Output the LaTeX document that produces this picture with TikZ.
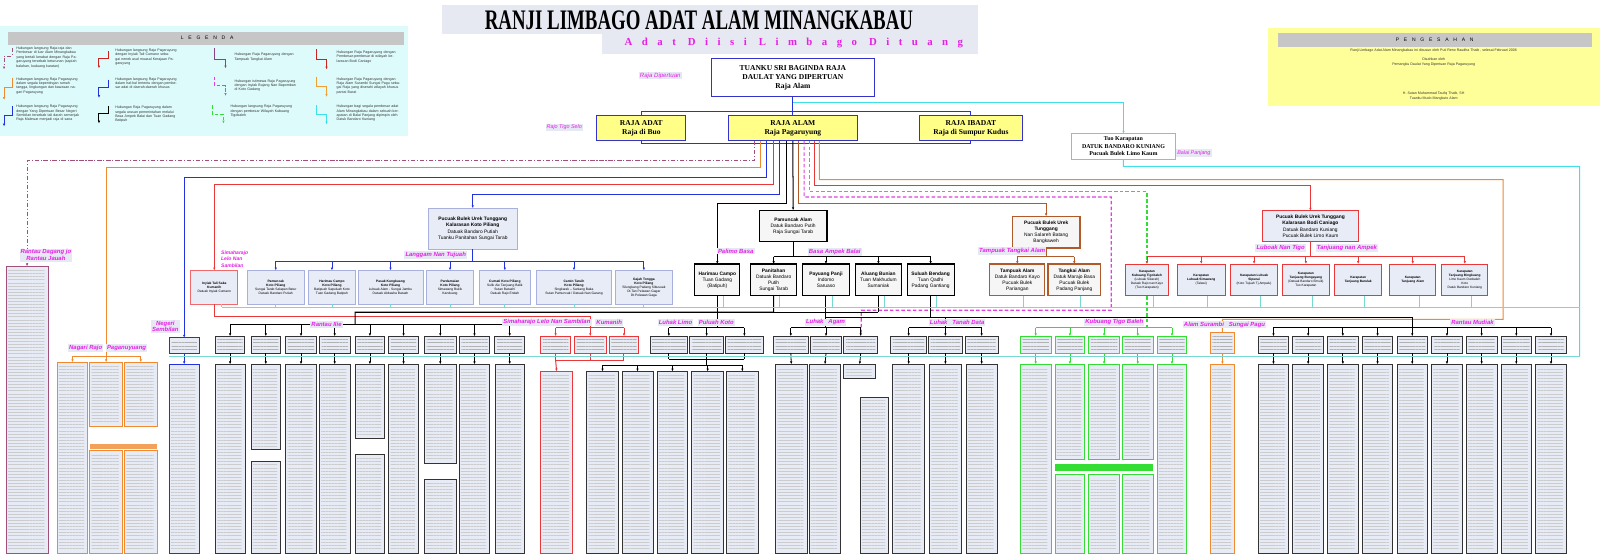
\documentclass[tikz,border=0pt]{standalone}
\usepackage{fontspec}
\setmainfont{Liberation Sans}
\newfontfamily\serif{Liberation Serif}
\newfontfamily\subfont[LetterSpace=88]{Liberation Serif}
\newfontfamily\spaced[LetterSpace=95]{Liberation Sans}
\usetikzlibrary{arrows.meta,calc,patterns.meta}
\definecolor{legbg}{HTML}{DDFBFB}
\definecolor{titlebg}{HTML}{E6E9F1}
\definecolor{yel}{HTML}{FFFF99}
\definecolor{rajaf}{HTML}{FFFF88}
\definecolor{navy}{HTML}{3333CC}
\definecolor{mag}{HTML}{E61EE6}
\definecolor{lblbg}{HTML}{E6E8F4}
\definecolor{boxfill}{HTML}{E8ECF6}
\definecolor{kpline}{HTML}{A8B0DD}
\definecolor{redln}{HTML}{E8383A}
\definecolor{orgln}{HTML}{F08A30}
\definecolor{bluln}{HTML}{2233DD}
\definecolor{mauve}{HTML}{A0507A}
\definecolor{brownln}{HTML}{B05A2A}
\definecolor{grnln}{HTML}{33DD33}
\definecolor{magln}{HTML}{E040E0}
\definecolor{cyanln}{HTML}{40E0E8}
\definecolor{tealln}{HTML}{78D8D2}
\definecolor{darkbx}{HTML}{333333}
\definecolor{tallfill}{HTML}{E6EBF5}
\definecolor{legpur}{HTML}{884488}
\definecolor{legred}{HTML}{CC2222}
\definecolor{legorg}{HTML}{F0A030}
\newcommand\bxn[7]{\node[#2,anchor=north west,minimum width={(#5-#3)*0.05cm},minimum height={(#6-#4)*0.05cm}] (#1) at (#3,#4) {#7};}
\newcommand\tall[6]{\bxn{#1}{tallbox,draw=#6}{#2}{#3}{#4}{#5}{}}
\newcommand\smb[6]{\bxn{#1}{smallbox,draw=#6}{#2}{#3}{#4}{#5}{}}
\begin{document}
\begin{tikzpicture}[x=0.05cm,y=-0.05cm,
  every node/.style={inner sep=0pt,outer sep=0pt},
  ln/.style={line width=1.4pt},
  thinln/.style={line width=1.1pt},
  arr/.style={-{Latex[length=4pt,width=3.4pt]}},
  dashdot/.style={dash pattern=on 6pt off 2.5pt on 1.5pt off 2.5pt},
  dsh/.style={dash pattern=on 5pt off 3pt,line width=1.6pt},
  lbl/.style={fill=lblbg,text=mag,font=\fontsize{8.3}{9.3}\selectfont\bfseries\itshape,inner sep=1.5pt,align=center},
  legtxt/.style={anchor=north west,text width=90pt,align=left,font=\fontsize{5}{6.1}\selectfont,text=black!80},
  pgtxt/.style={font=\fontsize{5}{6.1}\selectfont,text=black!80},
  topbox/.style={draw=navy,fill=white,line width=1.3pt,align=center,font={\serif\bfseries\fontsize{10.5}{12.5}\selectfont}},
  rajabox/.style={draw=navy,fill=rajaf,line width=1.3pt,align=center,font={\serif\bfseries\fontsize{10.5}{12.5}\selectfont}},
  tuobox/.style={draw=cyanln,fill=white,line width=1.3pt,align=center,font={\serif\bfseries\fontsize{8.3}{10.3}\selectfont}},
  kpmain/.style={draw=kpline,fill=boxfill,line width=1pt,align=center,font=\fontsize{6.8}{9}\selectfont},
  kpchild/.style={draw=kpline,fill=boxfill,line width=0.9pt,align=center,font=\fontsize{4.6}{5.6}\selectfont},
  inybox/.style={draw=redln!75,fill=boxfill,line width=1pt,align=center,font=\fontsize{4.6}{5.6}\selectfont},
  blkbox/.style={draw=black,fill=gray!7,line width=1.6pt,align=center,font=\fontsize{6.8}{8.3}\selectfont},
  brnbox/.style={draw=brownln,fill=gray!7,line width=1.5pt,align=center,font=\fontsize{6.8}{8.3}\selectfont},
  bcmain/.style={draw=redln,fill=boxfill,line width=1.5pt,align=center,font=\fontsize{6.8}{8.8}\selectfont},
  bcchild/.style={draw=redln,fill=boxfill,line width=1.3pt,align=center,font=\fontsize{4.5}{5.5}\selectfont},
  tallbox/.style={fill=tallfill,line width=1.1pt,path picture={\fill[pattern={Lines[distance=4.3pt,line width=0.45pt]},pattern color=gray!40] ([xshift=2.5pt,yshift=-5pt]path picture bounding box.north west) rectangle ([xshift=-5pt,yshift=4pt]path picture bounding box.south east);}},
  smallbox/.style={fill=tallfill,line width=1.2pt,path picture={\fill[pattern={Lines[distance=4.4pt,line width=0.55pt]},pattern color=gray!60] ([xshift=3pt,yshift=-4pt]path picture bounding box.north west) rectangle ([xshift=-3pt,yshift=3pt]path picture bounding box.south east);}}
]
\useasboundingbox (0,0) rectangle (1568,543);
\fill[white] (0,0) rectangle (1568,543);

% ---------- title ----------
\fill[titlebg] (433,5) rectangle (958,33);
\fill[titlebg] (590,33) rectangle (958,53);
\node (title) at (685,19.5) {\serif\bfseries\fontsize{26.3}{26}\selectfont\scalebox{1}[1.5]{RANJI LIMBAGO ADAT ALAM MINANGKABAU}};
\node[text=mag] (subtitle) at (778,42) {\subfont\bfseries\fontsize{15}{15}\selectfont Adat Diisi Limbago Dituang};

% ---------- legend ----------
\fill[legbg] (0,25) rectangle (400,133);
\fill[gray!45] (8,31) rectangle (396,44);
\node (legh) at (203,37.5) {\spaced\fontsize{7}{7}\selectfont LEGENDA};
\node[legtxt] (lg1) at (16,46) {Hubungan langsung Raja-raja dan Pembesar di luar Alam Minangkabau yang bertali kerabat dengan Raja Pagaruyung tersebab keturunan (sapiah balahan, kuduang karatan)};
\node[legtxt] (lg2) at (16,76) {Hubungan langsung Raja Pagaruyung dalam segala kepentingan rumah tangga, lingkungan dan kawasan nagari Pagaruyung};
\node[legtxt] (lg3) at (16,103) {Hubungan langsung Raja Pagaruyung dengan Yang Dipertuan Besar Negeri Sembilan tersebab tali darah semenjak Raja Malewar menjadi raja di sana};
\node[legtxt] (lg4) at (113,48) {Hubungan langsung Raja Pagaruyung dengan Inyiak Tali Cumano sebagai nenek asal muasal Kerajaan Pagaruyung};
\node[legtxt] (lg5) at (113,76) {Hubungan langsung Raja Pagaruyung dalam hal-hal tertentu dengan pembesar adat di daerah-daerah khusus};
\node[legtxt] (lg6) at (113,104) {Hubungan Raja Pagaruyung dalam segala urusan pemerintahan melalui Basa Ampek Balai dan Tuan Gadang Batipuh};
\node[legtxt] (lg7) at (230,52) {Hubungan Raja Pagaruyung dengan Tampuak Tangkai Alam};
\node[legtxt] (lg8) at (230,78) {Hubungan istimewa Raja Pagaruyung dengan Inyiak Bujang Nan Bapomban di Koto Gadang};
\node[legtxt] (lg9) at (226,103) {Hubungan langsung Raja Pagaruyung dengan pembesar Wilayah Kubuang Tigobaleh};
\node[legtxt] (lg10) at (330,50) {Hubungan Raja Pagaruyung dengan Pembesar-pembesar di wilayah kelarasan Bodi Caniago};
\node[legtxt] (lg11) at (330,76) {Hubungan Raja Pagaruyung dengan Raja Alam Surambi Sungai Pagu sebagai Raja yang diserahi wilayah khusus pantai Barat};
\node[legtxt] (lg12) at (330,103) {Hubungan bagi segala pembesar adat Alam Minangkabau dalam sebuah kerapatan di Balai Panjang dipimpin oleh Datuk Bandaro Kuniang};
\draw[mauve,ln,arr,dashdot] (12,47) -- (12,55) -- (4,55) -- (4,68);
\draw[orgln,ln,arr] (12,76) -- (12,86) -- (4,86) -- (4,98);
\draw[bluln,ln,arr] (12,104) -- (12,113) -- (4,113) -- (4,124);
\draw[legred,ln,arr] (106,50) -- (106,57) -- (97,57) -- (97,67);
\draw[bluln,ln,arr] (106,78) -- (106,86) -- (97,86) -- (97,96);
\draw[black,ln,arr] (106,104) -- (106,111) -- (97,111) -- (97,121);
\draw[legpur,ln,arr] (210,47) -- (210,58) -- (221,58) -- (221,67);
\draw[magln,dsh,arr] (210,75) -- (210,84) -- (221,84) -- (221,94);
\draw[grnln,dsh,arr] (208,103) -- (208,112) -- (219,112) -- (219,121);
\draw[legred,ln,arr] (310,48) -- (310,58) -- (320,58) -- (320,68);
\draw[legorg,ln,arr] (310,75) -- (310,85) -- (320,85) -- (320,95);
\draw[cyanln,ln,arr] (310,103) -- (310,112) -- (320,112) -- (320,122);

% ---------- pengesahan ----------
\fill[yel] (1243,27) rectangle (1568,104);
\fill[gray!45] (1252,32) rectangle (1560,46);
\node (pgh) at (1406,39) {\spaced\fontsize{7}{7}\selectfont PENGESAHAN};
\node[pgtxt] (pg1) at (1405,50) {Ranji Limbago Adat Alam Minangkabau ini disusun oleh Puti Reno Raudha Thaib , selesai Februari 2006};
\node[pgtxt,align=center] (pg2) at (1405,61) {Disahkan oleh\\Pemangku Daulat Yang Dipertuan Raja Pagaruyung};
\node[pgtxt,align=center] (pg3) at (1405,94) {H. Sutan Muhammad Taufiq Thaib, SH\\Tuanku Mudo Mangkuto Alam};

% ---------- top ----------
\bxn{topb}{topbox}{697}{57}{857}{95}{TUANKU SRI BAGINDA RAJA\\DAULAT YANG DIPERTUAN\\Raja Alam}
\node[lbl,font=\fontsize{8.5}{9.5}\selectfont\itshape] (lbdip) at (647,74) {Raja Dipertuan};
\bxn{radat}{rajabox}{585}{113}{672}{138}{RAJA ADAT\\Raja di Buo}
\bxn{ralam}{rajabox}{714}{113}{840}{138}{RAJA ALAM\\Raja Pagaruyung}
\bxn{ribadat}{rajabox}{901}{113}{1002}{138}{RAJA IBADAT\\Raja di Sumpur Kudus}
\node[lbl,font=\fontsize{7.5}{8.5}\selectfont\itshape] (lbtigo) at (553,125) {Rajo Tigo Selo};
\bxn{tuo}{tuobox}{1050}{131}{1152}{156}{Tuo Karapatan\\DATUK BANDARO KUNIANG\\Pucuak Bulek Limo Kaum}
\node[lbl,font=\fontsize{7.5}{8.5}\selectfont\itshape] (lbbp) at (1170,150) {Balai Panjang};
\coordinate (rowTop) at (0,109);
\coordinate (rowBot) at (0,141);
\draw[bluln,ln] (topb.south) -- (ralam.north);
\draw[bluln,ln] (radat.north) -- (radat.north |- rowTop) -- (ribadat.north |- rowTop) -- (ribadat.north);
\draw[bluln,ln] (radat.south) -- (radat.south |- rowBot) -- (ribadat.south |- rowBot) -- (ribadat.south);
\draw[cyanln,ln,arr] ($(topb.south)+(0,5)$) -| (tuo.north);

% ---------- middle row ----------
\bxn{kp}{kpmain}{419.6}{204}{507}{244}{\textbf{Pucuak Bulek Urek Tunggang}\\\textbf{Kalarasan Koto Piliang}\\Datuak Bandaro Putiah\\Tuanku Panitahan Sungai Tarab}
\bxn{inyiak}{inybox}{187}{265}{233}{298}{\textbf{Inyiak Tali Saka}\\\textbf{Kumanih}\\Datuak Inyiak Cumano}
\bxn{kc1}{kpchild}{242}{265}{298.5}{298}{\textbf{Pamuncak}\\\textbf{Koto Piliang}\\Sungai Tarab Salapan Batur\\Datuak Bandaro Putiah}
\bxn{kc2}{kpchild}{302}{265}{348.6}{298}{\textbf{Harimau Campo}\\\textbf{Koto Piliang}\\Batipuah Sapuluah Koto\\Tuan Gadang Batipuh}
\bxn{kc3}{kpchild}{351}{265}{414.4}{298}{\textbf{Pasak Kungkuang}\\\textbf{Koto Piliang}\\Lubuak Alam - Sungai Jambu\\Datuak Akbasha Batuah}
\bxn{kc4}{kpchild}{418}{265}{464}{298}{\textbf{Pardamaian}\\\textbf{Koto Piliang}\\Simawang Bukik\\Kanduang}
\bxn{kc5}{kpchild}{469.5}{265}{520}{298}{\textbf{Cumati Koto Piliang}\\Sulik Aie Tanjuang Balik\\Sutan Batuah/\\Datuak Rajo Endah}
\bxn{kc6}{kpchild}{526}{265}{599}{298}{\textbf{Camin Taruih}\\\textbf{Koto Piliang}\\Singkarak -- Saniang Baka\\Sutan Pamuncak / Datuak Nan Garang}
\bxn{kc7}{kpchild}{603}{265}{659}{298}{\textbf{Gajah Tongga}\\\textbf{Koto Piliang}\\Silungkang Padang Sibusuak\\Dt.Tan Pelawan Gagar\\Dt.Pelawan Gaga}
\node[lbl,fill=none,align=left,font=\fontsize{7}{8.5}\selectfont\bfseries\itshape] (lbsim) at (230,254) {Simaharajo\\Lelo Nan\\Sambilan};
\node[lbl] (lblang) at (427,250) {Langgam Nan Tujuah};

\bxn{pam}{blkbox}{744}{206}{810.5}{237}{\textbf{Pamuncak Alam}\\Datuk Bandaro Putih\\Raja Sungai Tarab}
\bxn{hc}{blkbox}{681}{258.7}{725}{290}{\textbf{Harimau Campo}\\Tuan Gadang\\(Batipuh)}
\bxn{ba1}{blkbox}{735.6}{258.7}{780.7}{290}{\textbf{Panitahan}\\Datuak Bandaro\\Putih\\Sungai Tarab}
\bxn{ba2}{blkbox}{786.6}{258.7}{832.3}{290}{\textbf{Payuang Panji}\\Indomo\\Saruaso}
\bxn{ba3}{blkbox}{838}{258.7}{883.7}{290}{\textbf{Aluang Bunian}\\Tuan Makhudum\\Sumaniak}
\bxn{ba4}{blkbox}{889}{258.7}{935}{290}{\textbf{Suluah Bendang}\\Tuan Qadhi\\Padang Gantiang}

\bxn{brn}{brnbox}{992}{212}{1058.4}{243}{\textbf{Pucuak Bulek Urek}\\\textbf{Tunggang}\\Nan Salareh Batang\\Bangkaweh}
\bxn{tp}{brnbox}{970}{258.7}{1024}{290}{\textbf{Tampuak Alam}\\Datuk Bandaro Kayo\\Pucuak Bulek\\Pariangan}
\bxn{tk}{brnbox}{1027}{258.7}{1078.6}{290}{\textbf{Tangkai Alam}\\Datuk Marajo Basa\\Pucuak Bulek\\Padang Panjang}

\bxn{bc}{bcmain}{1237.4}{206.5}{1331}{237}{\textbf{Pucuak Bulek Urek Tunggang}\\\textbf{Kalarasan Bodi Caniago}\\Datuak Bandaro Kuniang\\Pucuak Bulek Limo Kaum}
\bxn{k1}{bcchild}{1103}{258.7}{1145}{290}{\textbf{Karapatan}\\\textbf{Kubuang Tigobaleh}\\(Lubuak Sikarah)\\Datuak Rajo nan Kayo\\(Tuo Karapatan)}
\bxn{k2}{bcchild}{1154}{258.7}{1200.5}{290}{\textbf{Karapatan}\\\textbf{Lubuak Simawang}\\(Talawi)}
\bxn{k3}{bcchild}{1206}{258.7}{1252}{290}{\textbf{Karapatan Lubuak}\\\textbf{Sipunai}\\(Koto Tujuah Tj.Ampalu)}
\bxn{k4}{bcchild}{1257}{258.7}{1302.5}{290}{\textbf{Karapatan}\\\textbf{Tanjuang Bungayang}\\(Datuak Bandaro Emuik)\\Tuo Karapatan}
\bxn{k5}{bcchild}{1308}{258.7}{1354}{290}{\textbf{Karapatan}\\\textbf{Tanjuang Barulak}}
\bxn{k6}{bcchild}{1362}{258.7}{1407}{290}{\textbf{Karapatan}\\\textbf{Tanjuang Alam}}
\bxn{k7}{bcchild}{1413}{258.7}{1458}{290}{\textbf{Karapatan}\\\textbf{Tanjuang Bingkuang}\\Limo Kaum Duobaleh\\Koto\\Datuk Bandaro Kuniang}

% ---------- bundle from Raja Alam ----------
\draw[mauve,ln,dashdot,arr] ($(ralam.south)+(-38,0)$) -- ++(0,19.5) -| (26.5,261);
\draw[orgln,ln] ($(ralam.south)+(-32,0)$) -- ++(0,26) -| (104,349);
\draw[bluln,ln,arr] ($(ralam.south)+(-26,0)$) -- ++(0,35.5) -| (180.5,331);
\draw[redln,ln,arr] ($(ralam.south)+(-19,0)$) -- ++(0,43) -| (inyiak.north);
\draw[bluln,ln,arr] ($(ralam.south)+(-13,0)$) -- ++(0,52.7) -| (kp.north);
\draw[black,ln,arr] ($(ralam.south)+(-6,0)$) -- ++(0,61) -| (hc.north);
\draw[black,ln,arr] (ralam.south) -- (pam.north);
\draw[brownln,ln,arr] ($(ralam.south)+(6,0)$) -- ++(0,61) -| (brn.north);
\draw[magln,dsh] ($(ralam.south)+(11,0)$) -- ++(0,55) -- (1089,193) -- (1089,304) -- (844,304) -- (844,326);
\draw[grnln,dsh,arr] ($(ralam.south)+(16,0)$) -- ++(0,50) -| (k1.north);
\draw[redln,ln,arr] ($(ralam.south)+(21,0)$) -- ++(0,44) -| (bc.north);
\draw[orgln,ln] ($(ralam.south)+(26,0)$) -- ++(0,38) -- (1473,176) -- (1473,313) -- (1198,313) -- (1198,326);
\draw[cyanln,ln] (tuo.south) -- ++(0,7) -- (1548,163) -- (1548,349);

% middle brackets
\coordinate (lgY) at (0,256);
\draw[bluln,ln] (kp.south) -- (kp.south |- lgY);
\draw[bluln,ln] (kc1.north |- lgY) -- (kc7.north |- lgY);
\foreach \n in {kc1,kc2,kc3,kc4,kc5,kc6,kc7} \draw[bluln,thinln,arr] (\n.north |- lgY) -- (\n.north);
\coordinate (baY) at (0,251.5);
\draw[black,ln] (pam.south) -- (pam.south |- baY);
\draw[black,ln] (ba1.north |- baY) -- (ba4.north |- baY);
\foreach \n in {ba1,ba2,ba3,ba4} \draw[black,thinln,arr] (\n.north |- baY) -- (\n.north);
\draw[brownln,ln] (brn.south) -- (brn.south |- baY);
\draw[brownln,ln] (tp.north |- baY) -- (tk.north |- baY);
\foreach \n in {tp,tk} \draw[brownln,thinln,arr] (\n.north |- baY) -- (\n.north);
\draw[redln,ln] (bc.south) -- (bc.south |- baY);
\draw[redln,ln] (k1.north |- baY) -- (k7.north |- baY);
\foreach \n in {k1,k2,k3,k4,k5,k6,k7} \draw[redln,thinln,arr] (\n.north |- baY) -- (\n.north);

% ---------- left column ----------
\tall{rdag}{6}{261}{47}{542}{mauve}
\tall{nrA}{56}{355}{86}{542}{orgln}
\tall{nrB}{88}{355}{120}{418}{orgln}
\tall{nrC}{122}{355}{154}{418}{orgln}
\fill[orgln!80] (88,435) rectangle (154,440);
\tall{nrD}{88}{441}{120}{542}{orgln}
\tall{nrE}{122}{441}{154}{542}{orgln}
\coordinate (nrY) at (0,349);
\draw[orgln,ln] (nrA.north |- nrY) -- (nrC.north |- nrY);
\foreach \n in {nrA,nrB,nrC} \draw[orgln,thinln,arr] (\n.north |- nrY) -- (\n.north);

% ---------- lower row ----------
\coordinate (brY) at (0,321);
\coordinate (riY) at (0,318);
\smb{ns}{166}{331}{195}{346}{bluln}
\tall{nst}{166}{357}{195}{542}{bluln}
\draw[bluln,thinln,arr] (ns.south) -- (nst.north);

% Rantau Ilie
\smb{ri1}{211}{329.5}{240}{346}{darkbx}
\smb{ri2}{246}{329.5}{275}{346}{darkbx}
\smb{ri3}{280}{329.5}{310}{346}{darkbx}
\smb{ri4}{313}{329.5}{343}{346}{darkbx}
\smb{ri5}{348}{329.5}{377}{346}{darkbx}
\smb{ri6}{381}{329.5}{410}{346}{darkbx}
\smb{ri7}{416}{329.5}{447}{346}{darkbx}
\smb{ri8}{450}{329.5}{480}{346}{darkbx}
\smb{ri9}{485}{329.5}{514}{346}{darkbx}
\tall{rt1}{211}{357}{240}{542}{darkbx}
\tall{rt2}{246}{357}{275}{440}{darkbx}
\tall{rt2b}{246}{452}{275}{542}{darkbx}
\tall{rt3}{280}{357}{310}{542}{darkbx}
\tall{rt4}{313}{357}{343}{542}{darkbx}
\tall{rt5}{348}{357}{377}{430}{darkbx}
\tall{rt5b}{348}{445}{377}{542}{darkbx}
\tall{rt6}{381}{357}{410}{542}{darkbx}
\tall{rt7}{416}{357}{447}{454}{darkbx}
\tall{rt7b}{416}{470}{447}{542}{darkbx}
\tall{rt8}{450}{357}{480}{542}{darkbx}
\tall{rt9}{485}{357}{514}{542}{darkbx}
\foreach \i in {1,...,9} \draw[black,thinln,arr] (ri\i.south) -- (rt\i.north);
\draw[black,ln] (ri1.north |- riY) -- (ri9.north |- riY);
\foreach \i in {1,...,9} \draw[black,thinln,arr] (ri\i.north |- riY) -- (ri\i.north);

% Kumanih
\smb{km1}{530}{329.5}{559}{346}{redln}
\smb{km2}{563}{329.5}{594}{346}{redln}
\smb{km3}{597}{329.5}{626}{346}{redln}
\tall{kmt}{530}{364}{561}{542}{redln}
\draw[redln,ln] (km1.north |- brY) -- (km3.north |- brY);
\foreach \n in {km1,km2,km3} {\draw[redln,thinln,arr] (\n.north |- brY) -- (\n.north); \draw[redln,ln] (\n.south) -- ++(0,7);}
\draw[redln,ln] ($(km1.south)+(0,7)$) -- ($(km3.south)+(0,7)$);
\draw[redln,ln,arr] ($(km1.south)+(0,7)$) -- (kmt.north);
\draw[redln,ln] (inyiak.south) -- ++(0,12) -| (km2.north |- brY);

% Luhak Limo
\smb{ll1}{637}{329.5}{674}{346}{darkbx}
\smb{ll2}{676}{329.5}{709}{346}{darkbx}
\smb{ll3}{711}{329.5}{748}{346}{darkbx}
\tall{lt1}{575}{364}{606}{542}{darkbx}
\tall{lt2}{609.5}{364}{640}{542}{darkbx}
\tall{lt3}{644}{364}{674}{542}{darkbx}
\tall{lt4}{678}{364}{709}{542}{darkbx}
\tall{lt5}{712}{364}{743}{542}{darkbx}
\draw[black,ln] (ll1.north |- brY) -- (ll3.north |- brY);
\foreach \n in {ll1,ll2,ll3} {\draw[black,thinln,arr] (\n.north |- brY) -- (\n.north); \draw[black,ln] (\n.south) -- ++(0,6);}
\draw[black,ln] ($(ll1.south)+(0,6)$) -- ($(ll3.south)+(0,6)$);
\coordinate (ltY) at (0,358);
\draw[black,ln] ($(ll2.south)+(0,6)$) -- (ll2.south |- ltY);
\draw[black,ln] (lt1.north |- ltY) -- (lt5.north |- ltY);
\foreach \n in {lt1,lt2,lt3,lt4,lt5} \draw[black,thinln,arr] (\n.north |- ltY) -- (\n.north);
\draw[black,ln] (hc.south) -- (hc.south |- brY);

% Luhak Agam
\smb{la1}{758}{329.5}{792}{346}{darkbx}
\smb{la2}{794}{329.5}{825}{346}{darkbx}
\smb{la3}{827}{329.5}{860}{346}{darkbx}
\tall{lat1}{760}{357}{791}{542}{darkbx}
\tall{lat2}{793}{357}{824}{542}{darkbx}
\tall{lat3}{827}{357}{858}{371}{darkbx}
\tall{lat4}{843}{389}{871}{542}{darkbx}
\foreach \i in {1,2,3} \draw[black,thinln,arr] (la\i.south) -- (lat\i.north);
\draw[black,ln] (la1.north |- brY) -- (la3.north |- brY);
\foreach \n in {la1,la2,la3} \draw[black,thinln,arr] (\n.north |- brY) -- (\n.north);

% Tanah Data
\smb{td1}{873}{329.5}{908}{346}{darkbx}
\smb{td2}{910}{329.5}{943}{346}{darkbx}
\smb{td3}{946}{329.5}{978}{346}{darkbx}
\tall{tdt1}{875}{357}{906}{542}{darkbx}
\tall{tdt2}{911}{357}{942}{542}{darkbx}
\tall{tdt3}{947}{357}{977}{542}{darkbx}
\foreach \i in {1,2,3} \draw[black,thinln,arr] (td\i.south) -- (tdt\i.north);
\draw[black,ln] (td1.north |- brY) -- (td3.north |- brY);
\foreach \n in {td1,td2,td3} \draw[black,thinln,arr] (\n.north |- brY) -- (\n.north);

% Kubuang Tigo Baleh
\smb{kb1}{1000}{329.5}{1030}{346}{grnln}
\smb{kb2}{1034}{329.5}{1063}{346}{grnln}
\smb{kb3}{1067}{329.5}{1097}{346}{grnln}
\smb{kb4}{1100}{329.5}{1130}{346}{grnln}
\smb{kb5}{1134}{329.5}{1163}{346}{grnln}
\tall{kbt1}{1000}{357}{1030}{542}{grnln}
\tall{kbt2}{1034}{357}{1063}{450}{grnln}
\tall{kbt3}{1067}{357}{1097}{450}{grnln}
\tall{kbt4}{1100}{357}{1130}{450}{grnln}
\tall{kbt5}{1134}{357}{1163}{542}{grnln}
\fill[grnln] (1034,455) rectangle (1130,462);
\tall{kbu2}{1034}{465}{1063}{542}{grnln}
\tall{kbu3}{1067}{465}{1097}{542}{grnln}
\tall{kbu4}{1100}{465}{1130}{542}{grnln}
\foreach \i in {1,...,5} \draw[grnln,thinln,arr] (kb\i.south) -- (kbt\i.north);
\draw[grnln,ln] (kb1.north |- brY) -- (kb5.north |- brY);
\foreach \i in {1,...,5} \draw[grnln,thinln,arr] (kb\i.north |- brY) -- (kb\i.north);
\draw[grnln,dsh] (k1.south) -- (k1.south |- brY);

% Alam Surambi Sungai Pagu
\smb{sur}{1186}{326}{1210}{346}{orgln}
\tall{surt}{1186}{357}{1210}{542}{orgln}
\draw[orgln,thinln,arr] (sur.south) -- (surt.north);

% Rantau Mudiak
\foreach \i [evaluate=\i as \xa using 1233+34*(\i-1), evaluate=\i as \xb using 1263+34*(\i-1)] in {1,...,9} {
  \smb{rm\i}{\xa}{329.5}{\xb}{346}{darkbx}
  \tall{rmt\i}{\xa}{357}{\xb}{542}{darkbx}
  \draw[black,thinln,arr] (rm\i.south) -- (rmt\i.north);
  \draw[black,thinln,arr] (rm\i.north |- brY) -- (rm\i.north);
}
\draw[black,ln] (rm1.north |- brY) -- (rm9.north |- brY);

% black buses from Basa Ampek Balai
\draw[black,ln] (ba1.south) -- ++(0,16) -- (348,306) -- (348,318);
\draw[black,ln] (ba1.south |- 0,306) -- (ba3.south |- 0,306);
\draw[black,ln] (ba2.south) -- (ba2.south |- brY);
\draw[black,ln] (ba3.south) -- (ba3.south |- 0,306);
\draw[black,ln] (ba4.south) -- (ba4.south |- 0,311);
\draw[black,ln] (ba2.south |- 0,311) -- (rm5.north |- 0,311) -- (rm5.north |- brY);
\draw[black,ln] (td2.north |- 0,311) -- (td2.north |- brY);

% teal kerapatan lines
\draw[tealln,thinln] (218,301) -- (1548,301);
\draw[tealln,thinln] (166,349) -- (1548,349);
\foreach \n in {kc1,kc2,kc3,kc4,kc5,kc6,kc7} \draw[tealln,thinln] (\n.south) -- (\n.south |- 0,301);
\draw[tealln,thinln] ($(inyiak.south)+(7,0)$) -- ++(0,3);
\foreach \n in {hc,ba1,ba2,ba3,ba4,tp,tk,k1,k2,k3,k4,k5,k6,k7} \draw[tealln,thinln] ($(\n.south)+(6,0)$) -- ($(\n.south)+(6,11)$);

% ---------- labels (on top of lines) ----------
\node[lbl] (lbpal) at (721,246) {Palimo Basa};
\node[lbl] (lbbasa) at (818,247) {Basa Ampek Balai};
\node[lbl] (lbtt) at (992,246) {Tampuak Tangkai Alam};
\node[lbl] (lblub) at (1255,243) {Luboak Nan Tigo};
\node[lbl] (lbtj) at (1320,243) {Tanjuang nan Ampek};
\node[lbl] (lbrd) at (45,250) {Rantau Dagang jo\\Rantau Jauah};
\node[lbl] (lbnr) at (84,341) {Nagari Rajo};
\node[lbl] (lbpg) at (124,341) {Paganuyuang};
\node[lbl] (lbns) at (162,320) {Negeri\\Sembilan};
\node[lbl] (lbri) at (320,318) {Rantau Ilie};
\node[lbl] (lbslns) at (536,316) {Simaharajo Lelo Nan Sambilan};
\node[lbl] (lbkum) at (597,316) {Kumanih};
\node[lbl] (lbll) at (662,316) {Luhak Limo};
\node[lbl] (lbpk) at (702,316) {Puluah Koto};
\node[lbl] (lbla) at (809,316) {Luhak~~~Agam};
\node[lbl] (lbtd) at (938,316) {Luhak~~~Tanah Data};
\node[lbl] (lbkb) at (1092,316) {Kubuang Tigo Baleh};
\node[lbl] (lbas) at (1200,318) {Alam Surambi~~~Sungai Pagu};
\node[lbl] (lbrm) at (1443,316) {Rantau Mudiak};
\end{tikzpicture}
\end{document}
